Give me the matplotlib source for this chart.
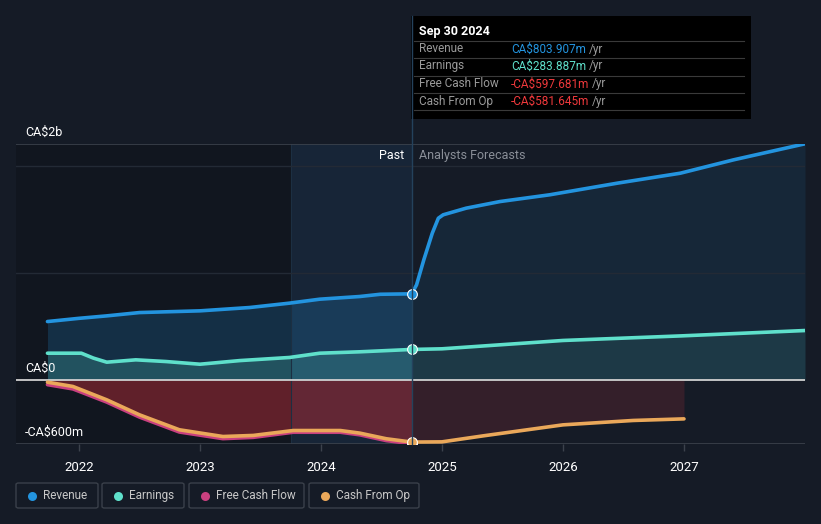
import matplotlib.pyplot as plt
from matplotlib.patches import Rectangle, FancyBboxPatch
from matplotlib.lines import Line2D

plt.rcParams['font.family'] = ['Roboto', 'DejaVu Sans']

# values in CA$ millions, x in decimal years
rev_x = [2021.74, 2022.0, 2022.23, 2022.5, 2023.0, 2023.41, 2023.74, 2023.99, 2024.32, 2024.49, 2024.75]
rev_y = [545, 575, 598, 629, 645, 676, 717, 754, 779, 800, 804]
rev_fx = [2024.75, 2024.79, 2024.85, 2024.92, 2024.97, 2025.01, 2025.2, 2025.48, 2025.89, 2026.45, 2026.97,
          2027.41, 2028.0]
rev_fy = [804, 888, 1122, 1371, 1511, 1543, 1605, 1667, 1730, 1839, 1932, 2057, 2207]

earn_x = [2021.74, 2022.02, 2022.12, 2022.23, 2022.47, 2022.72, 2023.0, 2023.33, 2023.74, 2023.99,
          2024.32, 2024.75]
earn_y = [249, 249, 203, 165, 187, 171, 146, 180, 209, 249, 262, 284]
earn_fx = [2024.75, 2025.0, 2026.0, 2026.98, 2028.0]
earn_fy = [284, 290, 368, 411, 461]

cfo_x = [2021.74, 2021.95, 2022.23, 2022.5, 2022.83, 2023.19, 2023.44, 2023.77, 2024.16, 2024.32,
         2024.54, 2024.75]
cfo_y = [-22, -62, -187, -327, -467, -530, -520, -474, -474, -498, -551, -582]
cfo_fx = [2024.75, 2025.0, 2025.34, 2026.0, 2026.58, 2027.0]
cfo_fy = [-582, -580, -524, -421, -380, -365]

fcf_x = [2021.74, 2021.95, 2022.23, 2022.5, 2022.83, 2023.19, 2023.44, 2023.77, 2024.16, 2024.32,
         2024.54, 2024.75]
fcf_y = [-45, -85, -208, -348, -488, -550, -538, -490, -490, -514, -568, -598]

years = [2022, 2023, 2024, 2025, 2026, 2027]
tip_labels = ["Revenue", "Earnings", "Free Cash Flow", "Cash From Op"]
tip_values = ["CA$803.907m", "CA$283.887m", "-CA$597.681m", "-CA$581.645m"]

BG = '#151b26'
C_REV = '#2394df'
C_EARN = '#5fe0cb'
C_FCF = '#c9407f'
C_CFO = '#eaa85a'
W, H = 821, 524
NOW = 2024.75


def fx(px):
    return px / W


def fy(py):
    return 1 - py / H


fig = plt.figure(figsize=(W / 100, H / 100), dpi=100, facecolor=BG)
ax = fig.add_axes([fx(16), fy(444), (805 - 16) / W, 300 / H])
ax.set_facecolor(BG)
ax.set_xlim(2021.48, 2028.0)
ax.set_ylim(-600, 2205)

# background zones
ax.axvspan(2021.48, 2023.75, color='#0e1117', alpha=0.45, lw=0)
ax.axvspan(2023.75, NOW, color='#1b3a58', alpha=0.35, lw=0)
ax.axvline(2023.75, color='#1c2f42', lw=0.8)

# gridlines
for gy in [1000, 2000]:
    ax.axhline(gy, color='#232a35', lw=1)
ax.axhline(2205, color='#3c424c', lw=1.2)
ax.axhline(-600, color='#3c424c', lw=1.2)

# fills
ax.fill_between(rev_x, rev_y, 0, color=C_REV, alpha=0.2, lw=0)
ax.fill_between(rev_fx, rev_fy, 0, color=C_REV, alpha=0.1, lw=0)
ax.fill_between(earn_x, earn_y, 0, color=C_EARN, alpha=0.2, lw=0)
ax.fill_between(earn_fx, earn_fy, 0, color=C_EARN, alpha=0.1, lw=0)
ax.fill_between(fcf_x, fcf_y, 0, color='#b02a35', alpha=0.5, lw=0)
ax.fill_between(cfo_fx, cfo_fy, 0, color='#5a2430', alpha=0.45, lw=0)

ax.axhline(0, color='#d0d0d0', lw=1.3)

# lines
kw = dict(lw=2.6, solid_capstyle='round', solid_joinstyle='round')
ax.plot(rev_x + rev_fx[1:], rev_y + rev_fy[1:], color=C_REV, **kw)
ax.plot(earn_x + earn_fx[1:], earn_y + earn_fy[1:], color=C_EARN, **kw)
ax.plot(fcf_x, fcf_y, color=C_FCF, **kw)
ax.plot(cfo_x + cfo_fx[1:], cfo_y + cfo_fy[1:], color=C_CFO, **kw)

ax.plot([NOW], [fcf_y[-1]], 'o', color=C_FCF, ms=7, mec='white', mew=0.8, zorder=5)
ax.plot([NOW], [cfo_y[-1]], 'o', color=C_CFO, ms=7, mec='white', mew=0.8, zorder=6)
ax.plot([NOW], [rev_y[-1]], 'o', color=C_REV, ms=7, mec='white', mew=0.8, zorder=6)
ax.plot([NOW], [earn_y[-1]], 'o', color=C_EARN, ms=7, mec='white', mew=0.8, zorder=6)

for s in ax.spines.values():
    s.set_visible(False)
ax.set_yticks([])
ax.set_xticks(years)
ax.set_xticklabels([str(y) for y in years])
ax.tick_params(axis='x', colors='#3c424c', length=5, width=1, labelcolor='white',
               labelsize=9.5, pad=7)

# y labels
fig.text(fx(25), fy(132), "CA$2b", color='white', fontsize=9, va='center')
fig.text(fx(25), fy(368), "CA$0", color='white', fontsize=9, va='center')
fig.text(fx(25), fy(432), "-CA$600m", color='white', fontsize=9, va='center')
fig.text(fx(404), fy(156), "Past", color='white', fontsize=9, ha='right', va='center')
fig.text(fx(419), fy(156), "Analysts Forecasts", color='#8a8f98', fontsize=9, va='center')

# tooltip
fig.add_artist(Line2D([fx(411.5), fx(411.5)], [fy(16), fy(444)], color='#24425c', lw=1))
fig.add_artist(Rectangle((fx(411), fy(119)), (751 - 411) / W, 103 / H, color='black', lw=0))
fig.text(fx(419), fy(31), "Sep 30 2024", color='white', fontsize=9, fontweight='bold', va='center')
val_colors = [C_REV, C_EARN, '#f0393c', '#f0393c']
row_y = [49, 66, 84, 101]
for i in range(4):
    fig.add_artist(Line2D([fx(414), fx(744)], [fy(row_y[i] - 8.5), fy(row_y[i] - 8.5)],
                          color='#3a3a3a', lw=0.8))
    fig.text(fx(419), fy(row_y[i]), tip_labels[i], color='#9a9a9a', fontsize=8.5, va='center')
    t = fig.text(fx(511), fy(row_y[i]), tip_values[i], color=val_colors[i], fontsize=8.5, va='center')
    fig.canvas.draw()
    bb = t.get_window_extent()
    fig.text(bb.x1 / W + 3 / W, fy(row_y[i]), "/yr", color='#9a9a9a', fontsize=8.5, va='center')
fig.add_artist(Line2D([fx(414), fx(744)], [fy(110), fy(110)], color='#3a3a3a', lw=0.8))

# legend buttons
leg_boxes = [(16, 98), (102, 184), (189, 304), (309, 419)]
leg_colors = [C_REV, C_EARN, C_FCF, C_CFO]
for (x0, x1), lab, c in zip(leg_boxes, tip_labels, leg_colors):
    fig.add_artist(FancyBboxPatch((fx(x0), fy(508)), (x1 - x0) / W, 25 / H,
                                  boxstyle='round,pad=0,rounding_size=0.003',
                                  fc=BG, ec='#3a404a', lw=1))
    fig.add_artist(Line2D([fx(x0 + 16)], [fy(495.5)], marker='o', color=c, ms=6.5, mew=0))
    fig.text(fx(x0 + 27), fy(495.5), lab, color='#c8c8c8', fontsize=8.5, va='center')

fig.savefig('out.png', dpi=100, facecolor=BG)
